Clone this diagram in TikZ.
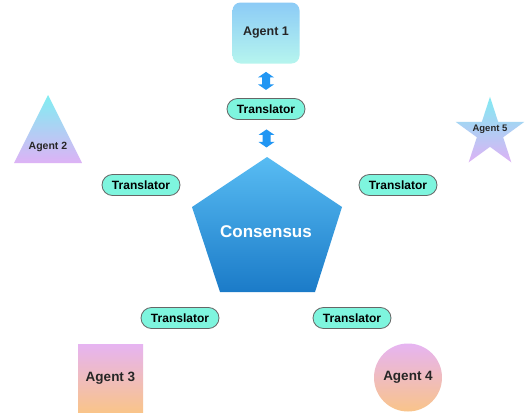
\documentclass[tikz,border=0pt]{standalone}
\usepackage{fontspec}
\setmainfont{Liberation Sans}
\usetikzlibrary{shapes.geometric,shapes.misc,calc}
\definecolor{aonetop}{HTML}{8CCBF6}
\definecolor{aonebot}{HTML}{B6F5EE}
\definecolor{cyantop}{HTML}{80EEF2}
\definecolor{lavbot}{HTML}{DDB2F5}
\definecolor{lavtop}{HTML}{E6B4F2}
\definecolor{peachbot}{HTML}{F9C48A}
\definecolor{penttop}{HTML}{58BCF3}
\definecolor{pentbot}{HTML}{1B7BC8}
\definecolor{transl}{HTML}{7EF5DE}
\definecolor{arrowblue}{HTML}{2196F3}
\begin{document}
\begin{tikzpicture}[x=1pt,y=-1pt,
  translator/.style={rounded rectangle, draw=black!60, line width=0.8pt, fill=transl,
    minimum width=78pt, minimum height=21pt, inner sep=0pt,
    font=\bfseries\fontsize{12}{12}\selectfont},
  agenttext/.style={font=\bfseries\fontsize{#1}{#1}\selectfont, text=black!85, inner sep=0pt},
  warm/.style={top color=lavtop, bottom color=peachbot, draw=none},
  cool/.style={top color=cyantop, bottom color=lavbot, draw=none},
  dblarrow/.style={fill=arrowblue, draw=none}
]
\useasboundingbox (0,0) rectangle (528,415);
\fill[white] (0,0) rectangle (528,415);

% Agent 1
\node[rectangle, rounded corners=8pt, top color=aonetop, bottom color=aonebot,
  minimum width=67pt, minimum height=61pt, inner sep=0pt] (agent1) at (266,33) {};
\node[agenttext=12.5] (agent1t) at (agent1.center) {Agent 1};

% Translators
\node[translator] (trtop) at (266,109) {Translator};
\node[translator] (trleft) at (141,185) {Translator};
\node[translator] (trright) at (398,185) {Translator};
\node[translator] (trbl) at (180,318) {Translator};
\node[translator] (trbr) at (352,318) {Translator};

% Consensus pentagon
\coordinate (p1) at (267,157);
\coordinate (p2) at (342,207);
\coordinate (p3) at (315,292);
\coordinate (p4) at (220,292);
\coordinate (p5) at (192,207);
\shade[top color=penttop, bottom color=pentbot] (p1) -- (p2) -- (p3) -- (p4) -- (p5) -- cycle;
\node[font=\bfseries\fontsize{17}{17}\selectfont, text=white, inner sep=0pt] (consensus) at (266,232) {Consensus};

% Double arrows
\coordinate (ar1) at ($(agent1.south)!0.5!(trtop.north)$);
\coordinate (ar2) at ($(trtop.south)!0.5!(p1)$);
\foreach \c in {ar1,ar2}{
  \fill[dblarrow] ($(\c)+(0,-9)$) -- ++(8,5.5) -- ++(-4,0) -- ++(0,7) -- ++(4,0)
    -- ++(-8,5.5) -- ++(-8,-5.5) -- ++(4,0) -- ++(0,-7) -- ++(-4,0) -- cycle;
}

% Agent 2 triangle
\coordinate (t1) at (48,95);
\coordinate (t2) at (82,163);
\coordinate (t3) at (14,163);
\shade[cool] (t1) -- (t2) -- (t3) -- cycle;
\node[agenttext=10.5] (agent2) at (48,147) {Agent 2};

% Agent 5 star
\node[star, star points=5, star point ratio=2.618, minimum size=72.4pt, inner sep=0pt,
  top color=cyantop!90!aonetop, bottom color=lavbot] (agent5star) at (490,133) {};
\node[agenttext=9.5] (agent5) at (490,129) {Agent 5};

% Agent 3 square
\node[rectangle, warm, minimum width=65pt, minimum height=68pt, inner sep=0pt] (agent3box) at (110.5,378) {};
\node[agenttext=13.5] (agent3) at (agent3box.center) {Agent 3};

% Agent 4 circle
\node[circle, warm, minimum size=68pt, inner sep=0pt] (agent4circ) at (408,377.5) {};
\node[agenttext=13.5] (agent4) at (agent4circ.center) {Agent 4};
\end{tikzpicture}
\end{document}
